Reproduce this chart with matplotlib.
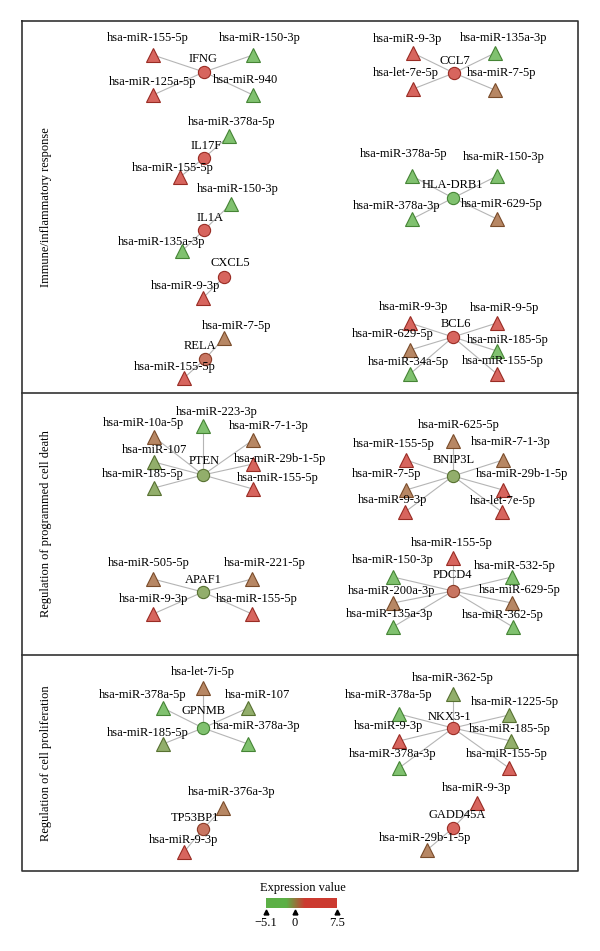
import matplotlib
import numpy as np

matplotlib.use("Agg")
import matplotlib.pyplot as plt
from matplotlib.colors import LinearSegmentedColormap, Normalize, to_rgb
from matplotlib.transforms import ScaledTranslation

# ---- data: genes, their expression, their miRNAs and expression ----
genes = ["IFNG", "CCL7", "IL17F", "HLA-DRB1", "IL1A", "CXCL5", "BCL6", "RELA",
         "PTEN", "BNIP3L", "APAF1", "PDCD4", "GPNMB", "NKX3-1", "TP53BP1", "GADD45A"]
gene_values = [4.5, 4.5, 4.5, -3.5, 4.5, 4.5, 4.5, 1.2,
               -0.8, -0.8, -0.8, 1.2, -3.5, 4.5, 1.2, 4.5]
targets = [
    ["hsa-miR-155-5p", "hsa-miR-150-3p", "hsa-miR-125a-5p", "hsa-miR-940"],
    ["hsa-miR-9-3p", "hsa-miR-135a-3p", "hsa-let-7e-5p", "hsa-miR-7-5p"],
    ["hsa-miR-378a-5p", "hsa-miR-155-5p"],
    ["hsa-miR-378a-5p", "hsa-miR-150-3p", "hsa-miR-378a-3p", "hsa-miR-629-5p"],
    ["hsa-miR-150-3p", "hsa-miR-135a-3p"],
    ["hsa-miR-9-3p"],
    ["hsa-miR-9-3p", "hsa-miR-9-5p", "hsa-miR-629-5p", "hsa-miR-185-5p", "hsa-miR-34a-5p", "hsa-miR-155-5p"],
    ["hsa-miR-7-5p", "hsa-miR-155-5p"],
    ["hsa-miR-223-3p", "hsa-miR-10a-5p", "hsa-miR-7-1-3p", "hsa-miR-107", "hsa-miR-29b-1-5p",
     "hsa-miR-185-5p", "hsa-miR-155-5p"],
    ["hsa-miR-625-5p", "hsa-miR-155-5p", "hsa-miR-7-1-3p", "hsa-miR-7-5p", "hsa-miR-29b-1-5p",
     "hsa-miR-9-3p", "hsa-let-7e-5p"],
    ["hsa-miR-505-5p", "hsa-miR-221-5p", "hsa-miR-9-3p", "hsa-miR-155-5p"],
    ["hsa-miR-155-5p", "hsa-miR-150-3p", "hsa-miR-532-5p", "hsa-miR-200a-3p", "hsa-miR-629-5p",
     "hsa-miR-135a-3p", "hsa-miR-362-5p"],
    ["hsa-let-7i-5p", "hsa-miR-378a-5p", "hsa-miR-107", "hsa-miR-378a-3p", "hsa-miR-185-5p"],
    ["hsa-miR-362-5p", "hsa-miR-378a-5p", "hsa-miR-1225-5p", "hsa-miR-9-3p", "hsa-miR-185-5p",
     "hsa-miR-378a-3p", "hsa-miR-155-5p"],
    ["hsa-miR-376a-3p", "hsa-miR-9-3p"],
    ["hsa-miR-9-3p", "hsa-miR-29b-1-5p"],
]
target_values = [
    [4.5, -3.8, 4.5, -3.8],
    [4.5, -3.8, 2.5, 0.6],
    [-3.8, 4.5],
    [-3.8, -3.8, -3.8, 0.6],
    [-3.8, -3.8],
    [4.5],
    [4.5, 4.5, 0.6, -3.8, -3.8, 4.5],
    [0.6, 4.5],
    [-3.8, 0.6, 0.6, -0.8, 4.5, -0.8, 4.5],
    [0.6, 4.5, 0.6, 0.6, 4.5, 4.5, 2.5],
    [0.6, 0.6, 4.5, 4.5],
    [4.5, -3.8, -3.8, 0.6, 0.6, -3.8, -3.8],
    [0.6, -3.8, -0.8, -3.8, -0.8],
    [-0.8, -3.8, -0.8, 4.5, -0.8, -3.8, 4.5],
    [0.6, 4.5],
    [4.5, 0.6],
]
sections = ["Immune/inflammatory response", "Regulation of programmed cell death",
            "Regulation of cell proliferation"]
vmin, vmid, vmax = -5.1, 0, 7.5

# ---- layout (pixel positions in the 600x951 canvas) ----
hub_xy = [(204, 72), (454, 73), (204, 158), (453, 198), (204, 230), (224, 277), (453, 337), (205, 359),
          (203, 475), (453, 476), (203, 592), (453, 591), (203, 728), (453, 728), (203, 829), (453, 828)]
hub_lab = [(203, 59), (455, 61), (206, 146), (452, 185), (210, 218), (230, 263), (456, 324), (200, 346),
           (204, 461), (454, 460), (203, 580), (452, 575), (203, 711), (449, 717), (195, 818), (457, 815)]
tgt_xy = [
    [(153, 55), (253, 55), (153, 95), (253, 95)],
    [(413, 53), (495, 53), (413, 89), (495, 90)],
    [(229, 136), (180, 177)],
    [(412, 176), (497, 176), (412, 219), (497, 219)],
    [(231, 204), (182, 251)],
    [(203, 298)],
    [(410, 323), (497, 323), (410, 350), (497, 351), (410, 374), (497, 374)],
    [(224, 338), (184, 378)],
    [(203, 426), (154, 437), (253, 440), (154, 462), (253, 464), (154, 488), (253, 489)],
    [(453, 441), (406, 460), (503, 460), (406, 490), (503, 490), (405, 512), (502, 512)],
    [(153, 579), (252, 579), (153, 614), (252, 614)],
    [(453, 558), (393, 577), (512, 577), (393, 603), (512, 603), (393, 627), (513, 627)],
    [(203, 688), (163, 708), (248, 708), (248, 744), (163, 744)],
    [(453, 694), (399, 714), (509, 715), (399, 741), (511, 741), (399, 768), (509, 768)],
    [(223, 808), (184, 852)],
    [(477, 803), (427, 850)],
]
tgt_lab = [
    [(148, 38), (260, 38), (153, 82), (245, 80)],
    [(408, 39), (504, 38), (406, 73), (502, 73)],
    [(232, 122), (173, 168)],
    [(404, 154), (504, 157), (397, 206), (502, 204)],
    [(238, 189), (162, 242)],
    [(186, 286)],
    [(414, 307), (505, 308), (393, 334), (508, 340), (408, 362), (503, 361)],
    [(237, 326), (175, 367)],
    [(217, 412), (143, 423), (269, 426), (155, 450), (280, 459), (143, 474), (278, 478)],
    [(459, 425), (394, 444), (511, 442), (387, 474), (522, 474), (393, 500), (503, 501)],
    [(149, 563), (265, 563), (154, 599), (257, 599)],
    [(452, 543), (393, 560), (515, 566), (392, 591), (520, 590), (390, 614), (503, 615)],
    [(203, 672), (143, 695), (258, 695), (257, 726), (148, 733)],
    [(453, 678), (389, 695), (515, 702), (389, 726), (510, 729), (393, 754), (507, 754)],
    [(232, 792), (184, 840)],
    [(477, 788), (425, 838)],
]
frame = (22, 21, 578, 871)
dividers = [393, 655]

FONT = "Liberation Serif"
GREEN, RED = to_rgb("#5cb046"), to_rgb("#cc3a30")
norm = Normalize(vmin, vmax)
cmap = LinearSegmentedColormap.from_list(
    "expr", [(0, GREEN), (norm(-1.5), GREEN), (norm(1.8), RED), (1, RED)])


def node_colors(v):
    c = np.array(cmap(norm(v))[:3])
    return c * 0.78 + 0.22, c * 0.75


fig = plt.figure(figsize=(6, 9.51), dpi=100)
ax = fig.add_axes([0, 0, 1, 1])
ax.set_xlim(0, 600)
ax.set_ylim(951, 0)
ax.axis("off")

x0, y0, x1, y1 = frame
ax.plot([x0, x1, x1, x0, x0], [y0, y0, y1, y1, y0], color="#333333", lw=1.2)
for yd in dividers:
    ax.plot([x0, x1], [yd, yd], color="#333333", lw=1.2)
bounds = [y0] + dividers + [y1]
for i, s in enumerate(sections):
    ax.text(46, (bounds[i] + bounds[i + 1]) / 2, s, rotation=90, ha="center", va="center",
            fontsize=9, family=FONT)

for g, gv, hxy, hl, tnames, tvals, txys, tls in zip(
        genes, gene_values, hub_xy, hub_lab, targets, target_values, tgt_xy, tgt_lab):
    for txy in txys:
        ax.plot([hxy[0], txy[0]], [hxy[1], txy[1]], color="#b5b5b5", lw=0.8, zorder=1)
    for name, v, txy, tl in zip(tnames, tvals, txys, tls):
        fc, ec = node_colors(v)
        ax.plot(*txy, marker="^", ms=9.5, mfc=fc, mec=ec, mew=0.8, zorder=2)
        ax.text(*tl, name, ha="center", va="center", fontsize=9, family=FONT, zorder=3)
    fc, ec = node_colors(gv)
    ax.plot(*hxy, marker="o", ms=8.8, mfc=fc, mec=ec, mew=0.8, zorder=2)
    ax.text(*hl, g, ha="center", va="center", fontsize=9, family=FONT, zorder=3)

# colour bar
ax.text(303, 888, "Expression value", ha="center", va="center", fontsize=9, family=FONT)
cax = fig.add_axes([266 / 600, 1 - 908 / 951, 71 / 600, 10 / 951])
grad = np.linspace(vmin, vmax, 256)[None, :]
cax.imshow(grad, cmap=cmap, norm=norm, aspect="auto", extent=(vmin, vmax, 0, 1))
cax.set_xlim(vmin, vmax)
cax.set_ylim(0, 1)
cax.set_yticks([])
cax.set_xticks([])
for sp in cax.spines.values():
    sp.set_visible(False)
tick_shift = cax.transData + ScaledTranslation(0, -3 / 72, fig.dpi_scale_trans)
for v, lab in zip([vmin, vmid, vmax], ["\u22125.1", "0", "7.5"]):
    cax.plot(v, 0, marker="^", ms=3.5, color="black", clip_on=False, transform=tick_shift)
    cax.annotate(lab, (v, 0), xytext=(0, -11), textcoords="offset points", ha="center", va="center",
                 fontsize=9, family=FONT, annotation_clip=False)

fig.savefig("out.png", dpi=100, facecolor="white")
